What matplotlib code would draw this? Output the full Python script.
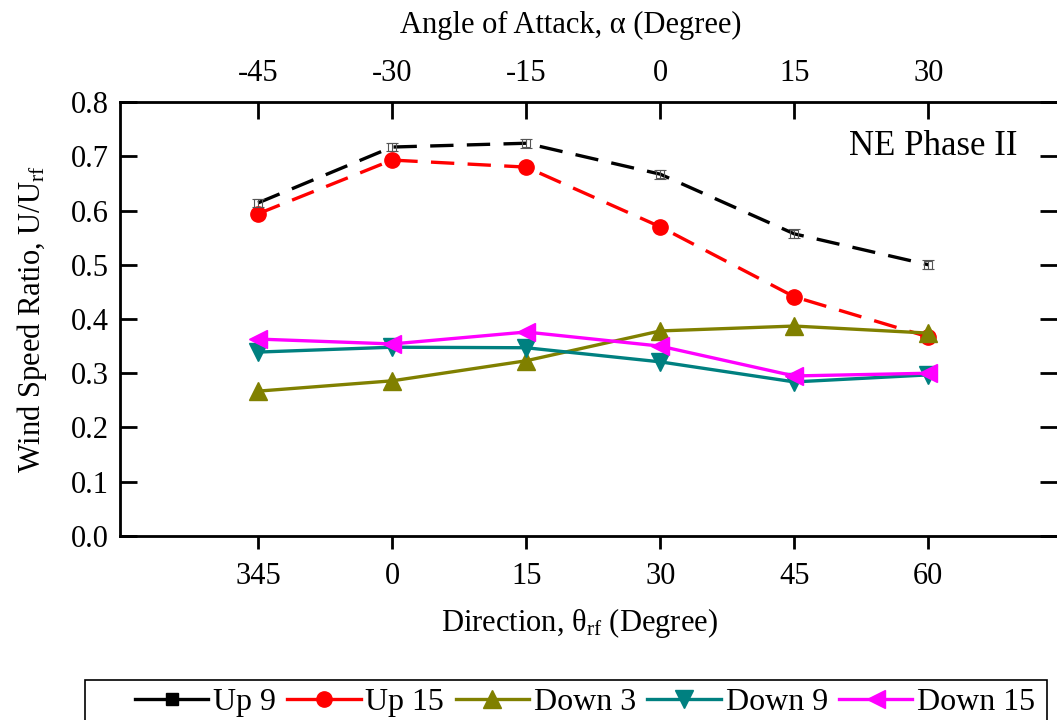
import numpy as np
import matplotlib.pyplot as plt
from matplotlib.patches import Rectangle

plt.rcParams['font.family'] = 'Liberation Serif'
plt.rcParams['mathtext.fontset'] = 'custom'
plt.rcParams['mathtext.rm'] = 'Liberation Serif'
plt.rcParams['mathtext.it'] = 'Liberation Serif:italic'

# wind direction (bottom) and matching angle of attack (top)
directions = ['345', '0', '15', '30', '45', '60']
angles = ['-45', '-30', '-15', '0', '15', '30']

up9 = [0.614, 0.717, 0.724, 0.667, 0.557, 0.500]
up9_err = [0.008, 0.008, 0.008, 0.008, 0.008, 0.008]
up15 = [0.594, 0.693, 0.680, 0.570, 0.441, 0.367]
down3 = [0.267, 0.286, 0.323, 0.378, 0.387, 0.374]
down9 = [0.339, 0.348, 0.347, 0.321, 0.284, 0.297]
down15 = [0.363, 0.354, 0.376, 0.350, 0.295, 0.300]

x = np.arange(len(directions))
fs = 22

fig = plt.figure(figsize=(10.57, 7.2), dpi=100)
ax = fig.add_axes([0.1135, 0.2556, 0.8865, 0.6027])

dash = (0, (7, 4))
lw = 2.4

ax.plot(x, up9, color='black', lw=lw, linestyle=dash, zorder=3)
ax.errorbar(x, up9, yerr=up9_err, fmt='s', ms=6, mfc='none', mec='#555555',
            mew=0.8, ecolor='#555555', elinewidth=0.8, capsize=4, zorder=4)
ax.plot(x, up15, color='red', lw=lw, linestyle=dash, marker='o', ms=11, zorder=3)
ax.plot(x, down3, color='#808000', lw=lw, marker='^', ms=13, zorder=3)
ax.plot(x, down9, color='#008080', lw=lw, marker='v', ms=13, zorder=3)
ax.plot(x, down15, color='#ff00ff', lw=lw, marker='<', ms=13, zorder=3)

# legend proxies (solid lines with filled markers)
handles = [
    plt.Line2D([], [], color='black', lw=lw, marker='s', ms=9),
    plt.Line2D([], [], color='red', lw=lw, marker='o', ms=11),
    plt.Line2D([], [], color='#808000', lw=lw, marker='^', ms=13),
    plt.Line2D([], [], color='#008080', lw=lw, marker='v', ms=13),
    plt.Line2D([], [], color='#ff00ff', lw=lw, marker='<', ms=13),
]
labels = ['Up 9', 'Up 15', 'Down 3', 'Down 9', 'Down 15']

ax.set_xlim(-1.03, 5.96)
ax.set_ylim(0, 0.8)
ax.set_xticks(x)
ax.set_xticklabels(directions)
ax.set_yticks(np.arange(0, 0.81, 0.1))
ax.set_yticklabels([f'{v:.1f}' for v in np.arange(0, 0.81, 0.1)])
ax.tick_params(axis='x', direction='out', length=9, width=2, labelsize=fs, pad=10)
ax.tick_params(axis='y', direction='in', length=12, width=2, labelsize=fs,
               right=True, pad=8)
for s in ['left', 'bottom', 'top']:
    ax.spines[s].set_linewidth(2)
ax.spines['right'].set_visible(False)

ax.set_xlabel(r'Direction, θ$_{\rm rf}$ (Degree)', fontsize=fs)
ax.set_ylabel(r'Wind Speed Ratio, U/U$_{\rm rf}$', fontsize=fs, labelpad=16)
ax.xaxis.set_label_coords(0.49, -0.162)

top = ax.twiny()
top.set_xlim(ax.get_xlim())
top.set_xticks(x)
top.set_xticklabels(angles)
top.tick_params(axis='x', direction='in', length=12, width=2, labelsize=fs, pad=10)
top.spines['right'].set_visible(False)
top.set_xlabel('Angle of Attack, α (Degree)', fontsize=fs)
top.xaxis.set_label_coords(0.481, 1.16)

ax.text(0.958, 0.897, 'NE Phase II', transform=ax.transAxes, fontsize=25,
        ha='right', va='center')

leg = fig.legend(handles, labels, loc='center', bbox_to_anchor=(0.5535, 0.024),
                 ncol=5, fontsize=23, frameon=False,
                 handlelength=2.3, handletextpad=0.15, columnspacing=0.35,
                 borderpad=0, borderaxespad=0)

# legend box running off the bottom edge
fig.patches.append(Rectangle((85 / 1057, -0.01), (1047 - 85) / 1057, 0.0657,
                             transform=fig.transFigure, fill=False,
                             edgecolor='black', lw=1.2))

fig.savefig('out.png', dpi=100)
